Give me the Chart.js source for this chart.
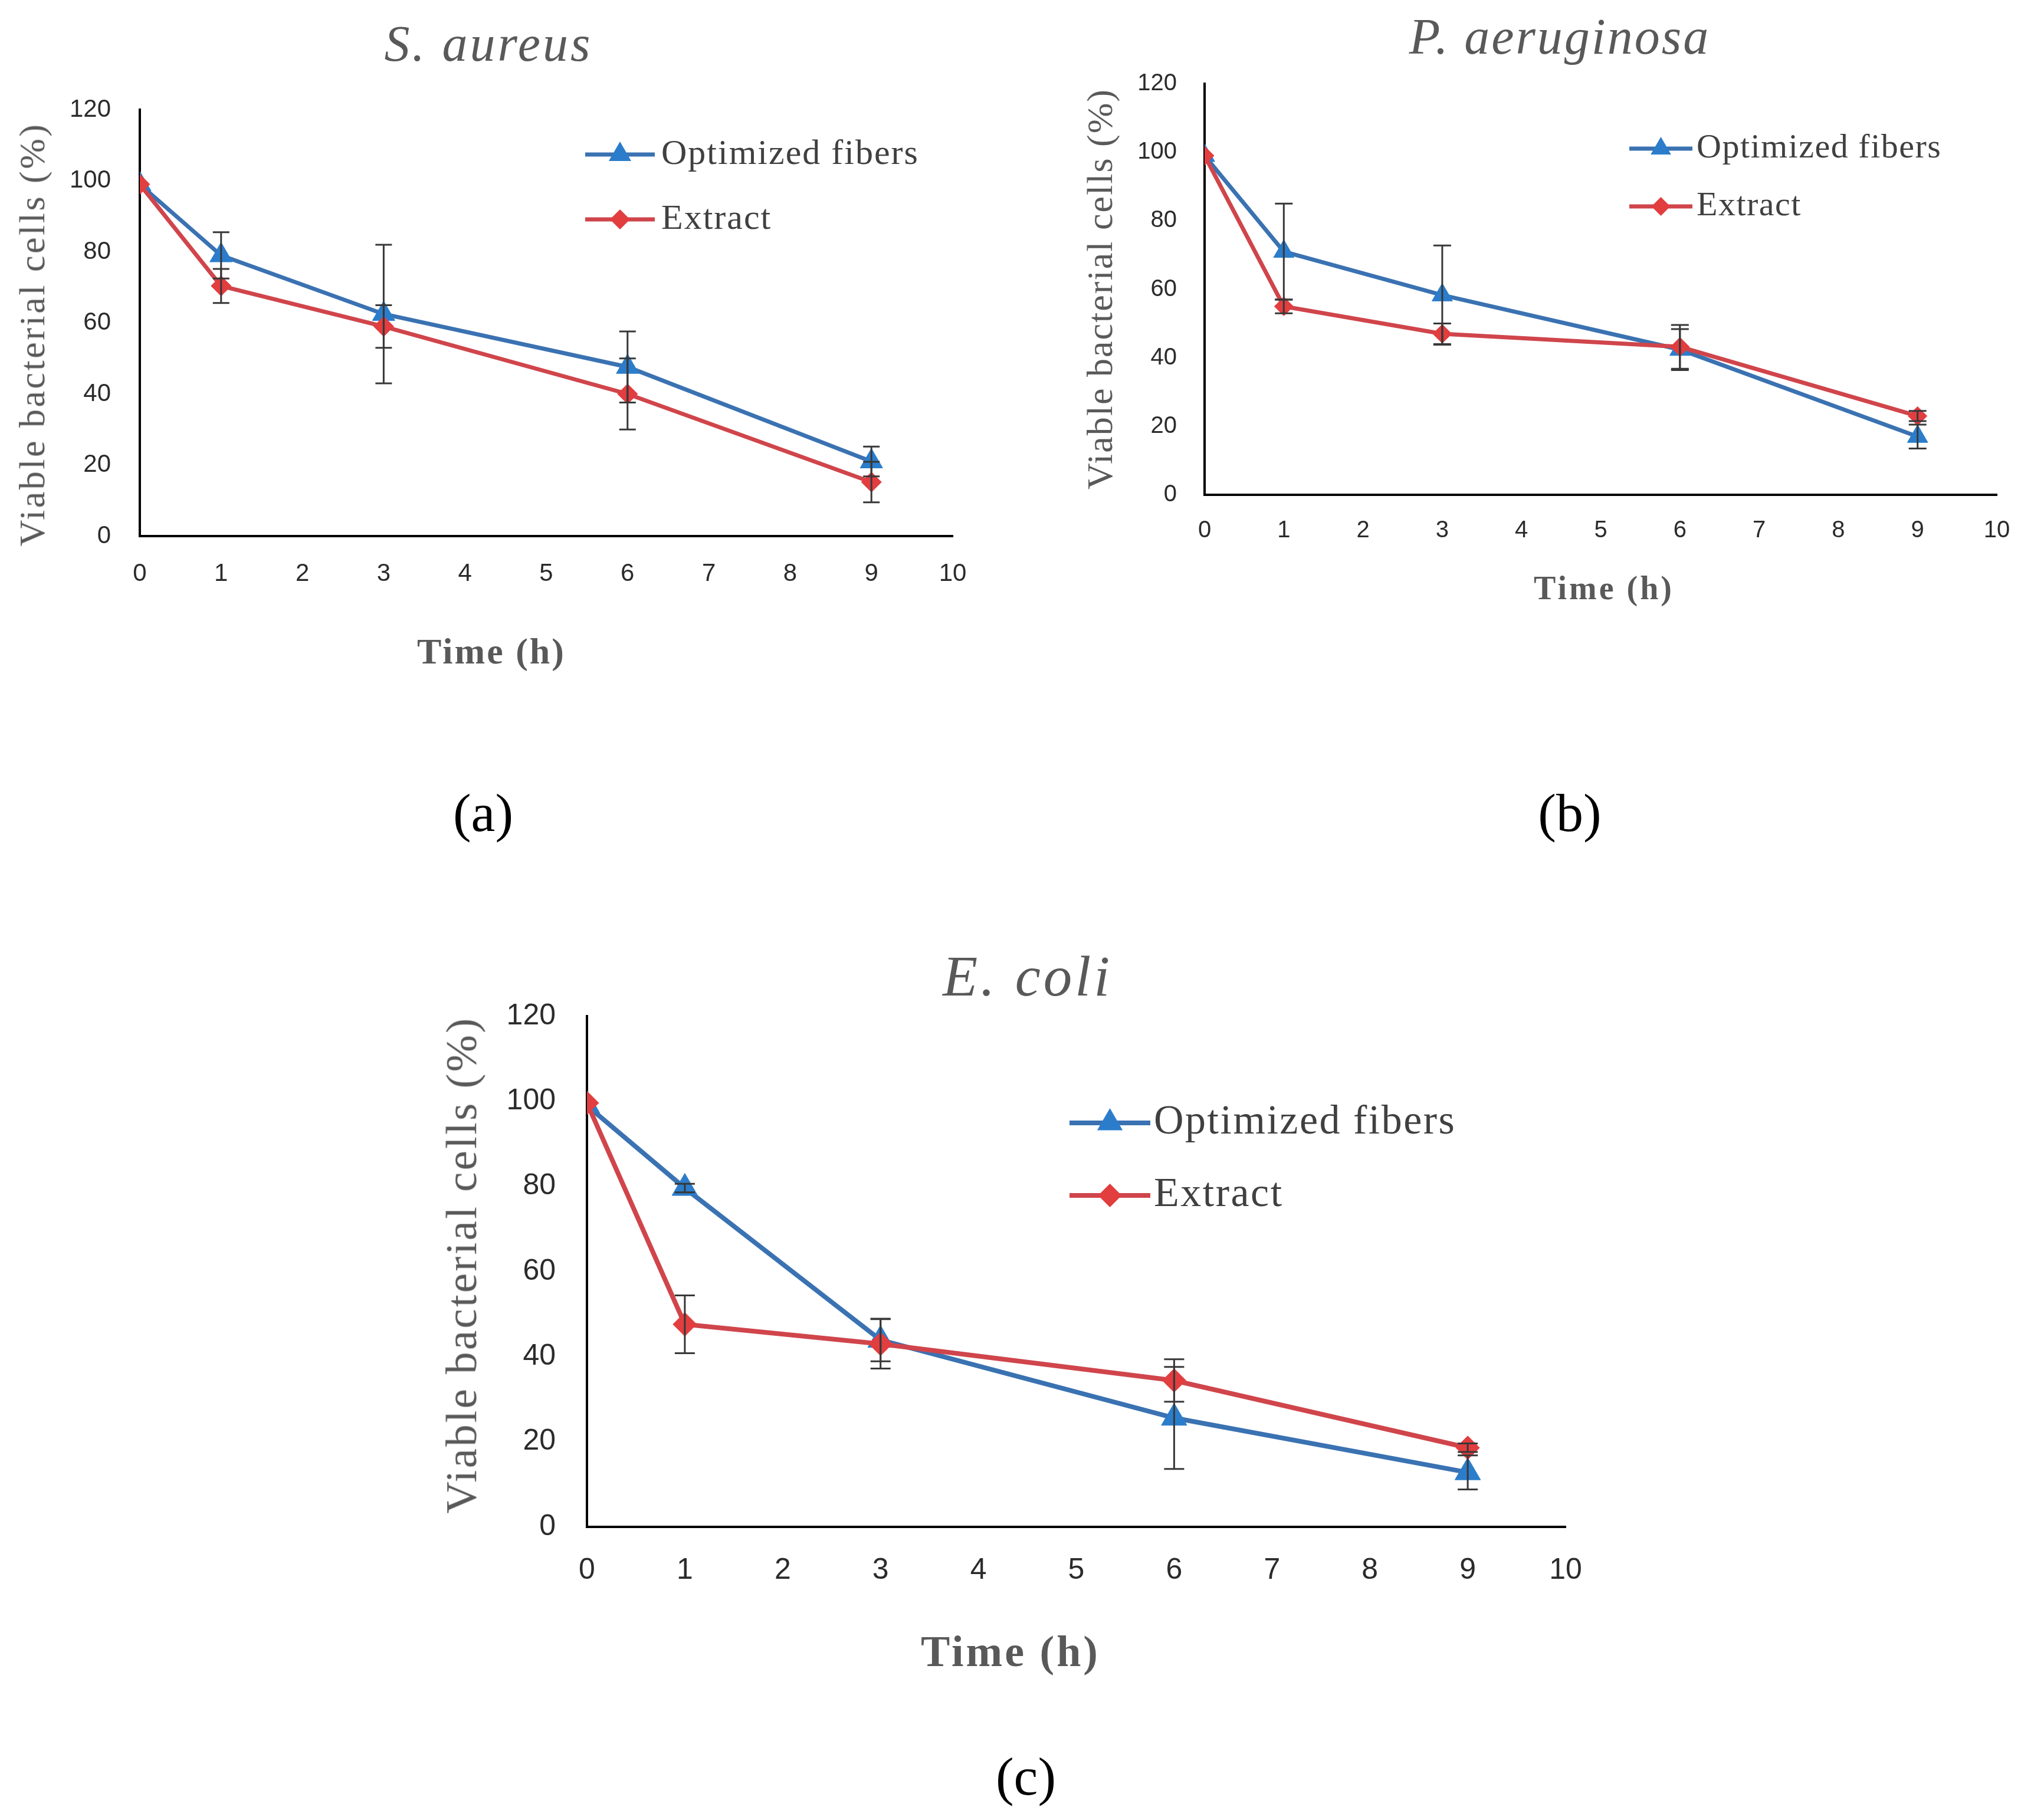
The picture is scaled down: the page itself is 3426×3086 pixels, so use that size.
<!DOCTYPE html>
<html>
<head>
<meta charset="utf-8">
<script src="https://cdn.jsdelivr.net/npm/chart.js@4.4.1/dist/chart.umd.min.js"></script>
<style>
html,body{margin:0;padding:0;background:#ffffff;}
body{position:relative;width:3426px;height:3086px;overflow:hidden;}
canvas{position:absolute;}
.txt{position:absolute;white-space:nowrap;line-height:1;font-family:'Liberation Serif','Times New Roman',serif;transform-origin:0 0;}
</style>
</head>
<body>
<canvas id="cA"></canvas>
<canvas id="cB"></canvas>
<canvas id="cC"></canvas>
<script>
// ---------------- DATA ----------------
const timePoints = [0, 1, 3, 6, 9];
const seriesNames = ['Optimized fibers', 'Extract'];
const panelTitles = ['S. aureus', 'P. aeruginosa', 'E. coli'];
const panelCaptions = ['(a)', '(b)', '(c)'];
const xAxisTitle = 'Time (h)';
const yAxisTitle = 'Viable bacterial cells (%)';

// S. aureus
const saureusFibers      = [99, 79, 62.5, 47.6, 21];
const saureusFibersErr   = [0, 6.5, 19.5, 10, 4.2];
const saureusExtract     = [99, 70.4, 59, 40, 15.2];
const saureusExtractErr  = [0, 4.8, 6, 10, 5.7];

// P. aeruginosa
const paerFibers         = [99, 71, 58.3, 42.4, 17];
const paerFibersErr      = [0, 14, 14.5, 6, 3.5];
const paerExtract        = [99, 55, 47, 43.2, 23];
const paerExtractErr     = [0, 2, 3, 6.4, 1.5];

// E. coli
const ecoliFibers        = [99, 79.6, 43.9, 25.6, 12.8];
const ecoliFibersErr     = [0, 1, 5, 12, 4];
const ecoliExtract       = [99.6, 47.6, 43, 34.4, 18.6];
const ecoliExtractErr    = [0, 6.8, 5.8, 5, 1];

// ---------------- STYLE ----------------
const BLUE_LINE = '#3a72b2';
const BLUE_PT = '#2b7dcb';
const RED_LINE = '#d0454b';
const RED_PT = '#e23d3f';
const TICK_COLOR = '#2b2b2b';
const GRAY_TEXT = '#595959';

// ---------------- PLUGINS ----------------
const errorBarPlugin = {
  id: 'errorBars',
  afterDatasetsDraw(chart, args, o) {
    const ctx = chart.ctx, xs = chart.scales.x, ys = chart.scales.y;
    ctx.save();
    ctx.strokeStyle = o.color;
    ctx.lineWidth = o.width;
    chart.data.datasets.forEach(ds => {
      (ds.errors || []).forEach((e, j) => {
        if (!e) return;
        const pt = ds.data[j];
        const x = xs.getPixelForValue(pt.x);
        const y1 = ys.getPixelForValue(pt.y + e);
        const y2 = ys.getPixelForValue(pt.y - e);
        ctx.beginPath();
        ctx.moveTo(x, y1); ctx.lineTo(x, y2);
        ctx.moveTo(x - o.cap, y1); ctx.lineTo(x + o.cap, y1);
        ctx.moveTo(x - o.cap, y2); ctx.lineTo(x + o.cap, y2);
        ctx.stroke();
      });
    });
    ctx.restore();
  }
};

function markerPath(ctx, style, x, y, r) {
  ctx.beginPath();
  if (style === 'triangle') {
    ctx.moveTo(x, y - r);
    ctx.lineTo(x + 0.866 * r, y + 0.5 * r);
    ctx.lineTo(x - 0.866 * r, y + 0.5 * r);
  } else {
    ctx.moveTo(x, y - r);
    ctx.lineTo(x + r, y);
    ctx.lineTo(x, y + r);
    ctx.lineTo(x - r, y);
  }
  ctx.closePath();
}

const panelLegendPlugin = {
  id: 'panelLegend',
  afterDraw(chart, args, o) {
    const ctx = chart.ctx;
    chart.data.datasets.forEach((ds, i) => {
      const y = o.rows[i];
      ctx.save();
      ctx.strokeStyle = ds.borderColor;
      ctx.lineWidth = ds.borderWidth;
      ctx.beginPath();
      ctx.moveTo(o.x0, y); ctx.lineTo(o.x1, y);
      ctx.stroke();
      ctx.fillStyle = ds.pointBackgroundColor;
      markerPath(ctx, ds.pointStyle, (o.x0 + o.x1) / 2, y, ds.pointRadius);
      ctx.fill();
      ctx.font = o.size + "px 'Liberation Serif', 'Times New Roman', serif";
      ctx.fillStyle = o.color;
      ctx.textBaseline = 'middle';
      ctx.textAlign = 'left';
      try { ctx.letterSpacing = o.ls + 'px'; } catch (e) {}
      ctx.fillText(ds.label, o.tx, y);
      ctx.restore();
    });
  }
};

// ---------------- PANELS ----------------
const panels = [
  { id: 'cA', left: 0, top: 0, w: 1720, h: 1100,
    area: { left: 237, right: 1615, top: 186, bottom: 909 },
    fib: saureusFibers, fibErr: saureusFibersErr, ext: saureusExtract, extErr: saureusExtractErr,
    tick: 42, xPad: 39, yPad: 49, lw: 7, triR: 22, diaR: 17, cap: 14,
    legend: { x0: 992, x1: 1110, tx: 1121, rows: [262, 372], size: 60, ls: 2 } },
  { id: 'cB', left: 1750, top: 0, w: 1780, h: 1060,
    area: { left: 292, right: 1635, top: 142, bottom: 839 },
    fib: paerFibers, fibErr: paerFibersErr, ext: paerExtract, extErr: paerExtractErr,
    tick: 40, xPad: 37, yPad: 47, lw: 7, triR: 20, diaR: 16, cap: 15,
    legend: { x0: 1012, x1: 1119, tx: 1126, rows: [252, 350], size: 58, ls: 1.5 } },
  { id: 'cC', left: 700, top: 1550, w: 2100, h: 1300,
    area: { left: 295, right: 1954, top: 173, bottom: 1039 },
    fib: ecoliFibers, fibErr: ecoliFibersErr, ext: ecoliExtract, extErr: ecoliExtractErr,
    tick: 50, xPad: 44, yPad: 53, lw: 8, triR: 25, diaR: 20, cap: 17,
    legend: { x0: 1113, x1: 1250, tx: 1256, rows: [354, 477], size: 70, ls: 2.5 } }
];

function buildPanel(p) {
  const canvas = document.getElementById(p.id);
  canvas.width = p.w; canvas.height = p.h;
  canvas.style.left = p.left + 'px'; canvas.style.top = p.top + 'px';
  canvas.style.width = p.w + 'px'; canvas.style.height = p.h + 'px';
  const tickFont = { family: "'Liberation Sans', Arial, sans-serif", size: p.tick };
  const datasets = [
    { label: seriesNames[0], data: timePoints.map((t, i) => ({ x: t, y: p.fib[i] })), errors: p.fibErr,
      borderColor: BLUE_LINE, backgroundColor: BLUE_PT, pointBackgroundColor: BLUE_PT, pointBorderColor: BLUE_PT,
      pointBorderWidth: 1, pointStyle: 'triangle', pointRadius: p.triR, borderWidth: p.lw, order: 2, tension: 0, fill: false },
    { label: seriesNames[1], data: timePoints.map((t, i) => ({ x: t, y: p.ext[i] })), errors: p.extErr,
      borderColor: RED_LINE, backgroundColor: RED_PT, pointBackgroundColor: RED_PT, pointBorderColor: RED_PT,
      pointBorderWidth: 1, pointStyle: 'rectRot', pointRadius: p.diaR, borderWidth: p.lw, order: 1, tension: 0, fill: false }
  ];
  new Chart(canvas, {
    type: 'line',
    data: { datasets },
    options: {
      responsive: false, animation: false, devicePixelRatio: 1,
      layout: { padding: { left: 0, top: p.area.top, right: p.w - p.area.right, bottom: 0 } },
      plugins: {
        legend: { display: false }, tooltip: { enabled: false }, title: { display: false },
        errorBars: { color: '#383838', width: 3, cap: p.cap },
        panelLegend: Object.assign({ color: '#404040' }, p.legend)
      },
      scales: {
        x: { type: 'linear', min: 0, max: 10,
             ticks: { stepSize: 1, autoSkip: false, maxRotation: 0, padding: p.xPad, font: tickFont, color: TICK_COLOR },
             grid: { display: false, drawTicks: false },
             border: { display: true, color: '#000000', width: 4 },
             afterFit: (s) => { s.height = p.h - p.area.bottom; } },
        y: { type: 'linear', min: 0, max: 120,
             ticks: { stepSize: 20, padding: p.yPad, font: tickFont, color: TICK_COLOR },
             grid: { display: false, drawTicks: false },
             border: { display: true, color: '#000000', width: 4 },
             afterFit: (s) => { s.width = p.area.left; } }
      }
    },
    plugins: [errorBarPlugin, panelLegendPlugin]
  });
}
panels.forEach(buildPanel);

// ---------------- TEXT ----------------
function addText(text, o) {
  const d = document.createElement('div');
  d.className = 'txt';
  d.textContent = text;
  d.style.fontSize = o.size + 'px';
  d.style.color = o.color;
  if (o.italic) d.style.fontStyle = 'italic';
  if (o.bold) d.style.fontWeight = 'bold';
  d.style.letterSpacing = (o.ls || 0) + 'px';
  d.style.left = o.x + 'px';
  d.style.top = o.y + 'px';
  d.style.transform = o.rotate ? 'rotate(-90deg) translate(-50%,-0.8375em)' : 'translate(-50%,-0.8375em)';
  document.body.appendChild(d);
}
const titleLayout = [
  { x: 828, y: 103, size: 86, ls: 4 },
  { x: 2644, y: 91, size: 86, ls: 3 },
  { x: 1742, y: 1688, size: 97, ls: 5 }
];
const xTitleLayout = [
  { x: 833, y: 1125, size: 62, ls: 3 },
  { x: 2719, y: 1016, size: 56, ls: 4 },
  { x: 1713, y: 2825, size: 74, ls: 4 }
];
const yTitleLayout = [
  { x: 75, y: 567, size: 62, ls: 3.5 },
  { x: 1885, y: 490, size: 62, ls: 2 },
  { x: 807, y: 2145, size: 75, ls: 3.2 }
];
const captionLayout = [
  { x: 819, y: 1409, size: 92 },
  { x: 2661, y: 1409, size: 92 },
  { x: 1739, y: 3043, size: 92 }
];
for (let i = 0; i < 3; i++) {
  addText(panelTitles[i], Object.assign({ italic: true, color: GRAY_TEXT }, titleLayout[i]));
  addText(xAxisTitle, Object.assign({ bold: true, color: GRAY_TEXT }, xTitleLayout[i]));
  addText(yAxisTitle, Object.assign({ rotate: true, color: GRAY_TEXT }, yTitleLayout[i]));
  addText(panelCaptions[i], Object.assign({ color: '#000000' }, captionLayout[i]));
}
</script>
</body>
</html>
